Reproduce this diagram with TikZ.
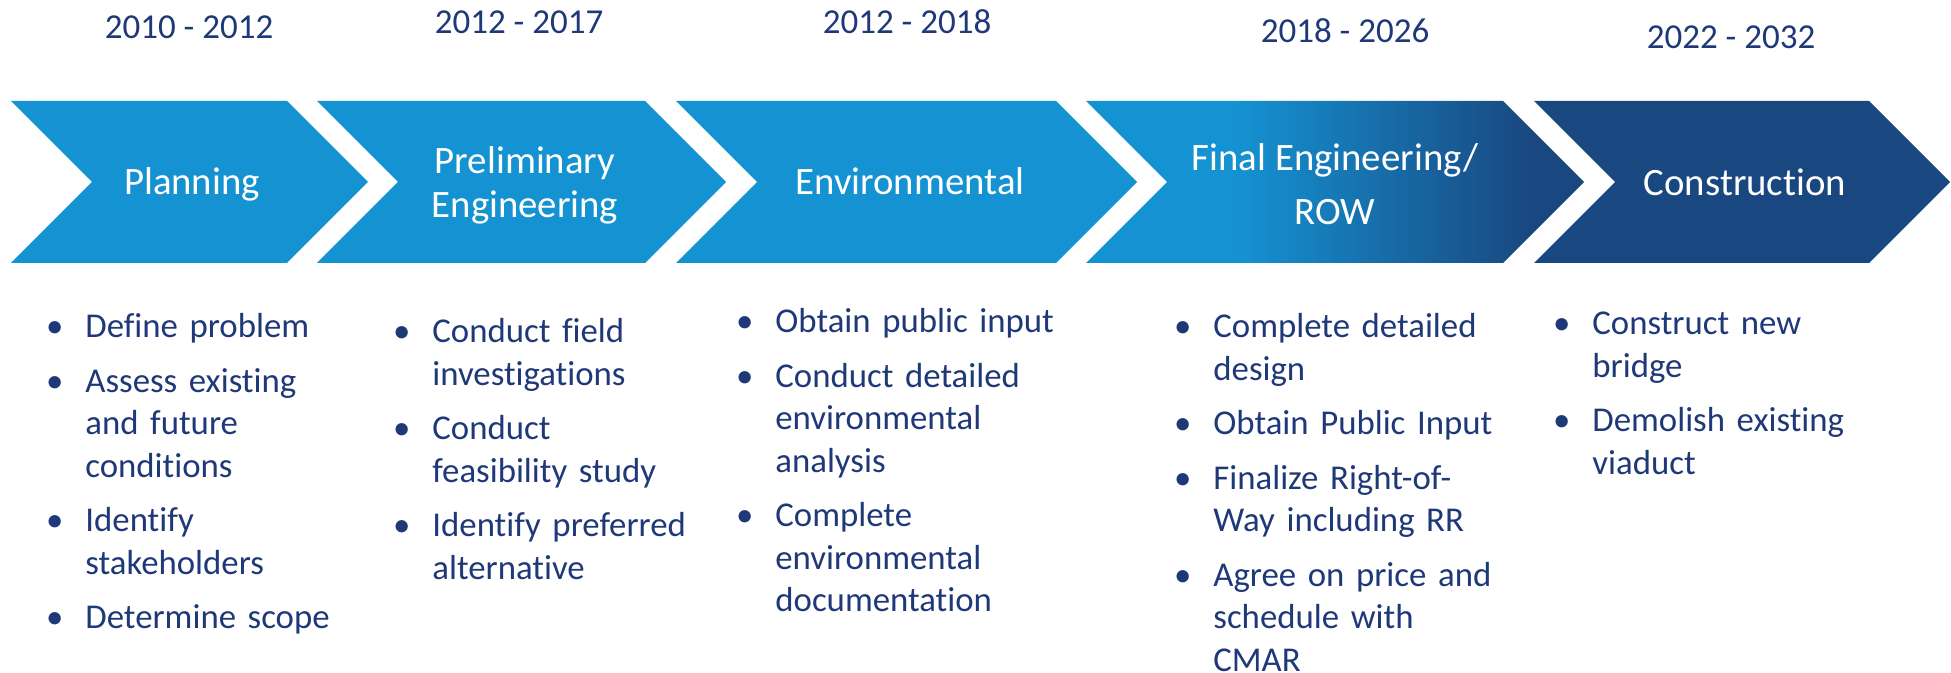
\documentclass[tikz,border=0pt]{standalone}
\usepackage{fontspec}
\setmainfont{Carlito}[Ligatures=NoCommon]
\usetikzlibrary{positioning}

\definecolor{stageblue}{RGB}{21,146,210}
\definecolor{stagenavy}{RGB}{25,71,127}
\definecolor{listnavy}{RGB}{31,56,120}
\pgfdeclarehorizontalshading{rowfade}{100bp}{color(0bp)=(stageblue); color(40bp)=(stageblue); color(70bp)=(stagenavy); color(100bp)=(stagenavy)}

\newcommand{\taskitem}[1]{\hangindent=24pt\hangafter=1\noindent\hbox to 24pt{\hfil\textbullet\hspace{11pt}}#1\par}

\begin{document}
\begin{tikzpicture}[x=0.5pt, y=-0.5pt,
  years/.style={font=\fontsize{17.5}{21}\selectfont, text=listnavy, inner sep=0},
  stagename/.style={font=\fontsize{19.4}{22}\selectfont, text=white, align=center, inner sep=0, anchor=base},
  tasks/.style={font=\fontsize{17.4}{21.25}\selectfont, text=listnavy, text width=180pt, align=left, inner sep=0, anchor=base west,
    execute at begin node={\setlength{\parskip}{6pt}}}]
  \useasboundingbox (0,0) rectangle (1951,673);

  \foreach \l/\r in {11/368, 317/726, 676/1137} {
    \fill[stageblue] (\l,101) -- (\r-81,101) -- (\r,182) -- (\r-81,263) -- (\l,263) -- (\l+81,182) -- cycle;
  }
  \shade[shading=rowfade] (1086,101) -- (1503,101) -- (1584,182) -- (1503,263) -- (1086,263) -- (1167,182) -- cycle;
  \fill[stagenavy] (1534,101) -- (1869,101) -- (1950,182) -- (1869,263) -- (1534,263) -- (1615,182) -- cycle;

  \foreach \nm/\x/\y/\yrs in {plan/189/27/{2010 - 2012}, prelim/519/22/{2012 - 2017}, env/907/22/{2012 - 2018},
                             final/1345/31/{2018 - 2026}, constr/1731/37/{2022 - 2032}} {
    \node[years] (\nm years) at (\x,\y) {\yrs};
  }

  \node[stagename] (plan) at (192,195) {Planning};
  \node[stagename] (prelim) at (525,218) {Preliminary\\Engineering};
  \node[stagename] (env) at (910,195) {Environmental};
  \node[stagename] (final) at (1335,225) {Final Engineering/\\[5pt]ROW};
  \node[stagename] (constr) at (1745,196) {Construction};

  \node[tasks] (plantasks) at (37,338) {%
    \taskitem{Define problem}
    \taskitem{Assess existing\newline and future\newline conditions}
    \taskitem{Identify\newline stakeholders}
    \taskitem{Determine scope}};
  \node[tasks] (prelimtasks) at (384,343) {%
    \taskitem{Conduct field\newline investigations}
    \taskitem{Conduct\newline feasibility study}
    \taskitem{Identify preferred\newline alternative}};
  \node[tasks] (envtasks) at (727,333) {%
    \taskitem{Obtain public input}
    \taskitem{Conduct detailed\newline environmental\newline analysis}
    \taskitem{Complete\newline environmental\newline documentation}};
  \node[tasks] (finaltasks) at (1165,338) {%
    \taskitem{Complete detailed\newline design}
    \taskitem{Obtain Public Input}
    \taskitem{Finalize Right-of-\newline Way including RR}
    \taskitem{Agree on price and\newline schedule with\newline CMAR}};
  \node[tasks] (constrtasks) at (1544,335) {%
    \taskitem{Construct new\newline bridge}
    \taskitem{Demolish existing\newline viaduct}};
\end{tikzpicture}
\end{document}
